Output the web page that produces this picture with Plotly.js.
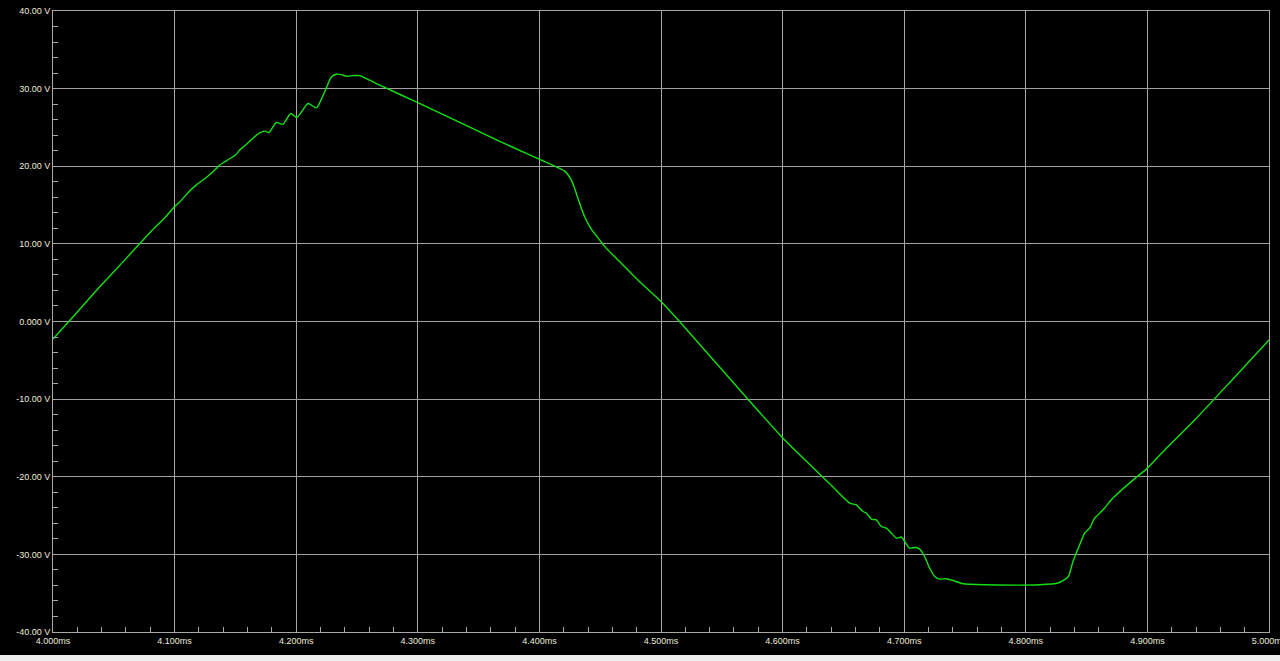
<!DOCTYPE html>
<html>
<head>
<meta charset="utf-8">
<script src="https://cdn.plot.ly/plotly-3.0.1.min.js"></script>
<style>
  html, body { margin: 0; padding: 0; background: #000; }
  #chart { width: 1280px; height: 661px; }
</style>
</head>
<body>
<div id="chart"></div>
<script>
// Time (ms) of each sample
var timeMs = [
  4.000, 4.013, 4.036, 4.060, 4.080, 4.0915, 4.0993, 4.1042, 4.1110, 4.1179,
  4.1261, 4.1343, 4.1365, 4.1426, 4.1508, 4.1535, 4.1575, 4.1632, 4.1700, 4.1741,
  4.1776, 4.1837, 4.1891, 4.1955, 4.2007, 4.2097, 4.2166, 4.2234, 4.2289, 4.2331,
  4.2372, 4.2413, 4.2467, 4.2522, 4.2577, 4.2632, 4.2687, 4.3000, 4.3674, 4.4126,
  4.4208, 4.4263, 4.4290, 4.4317, 4.4372, 4.4428, 4.4496, 4.4551, 4.4633, 4.4661,
  4.4825, 4.5003, 4.5154, 4.5715, 4.6003, 4.6262, 4.6400, 4.6552, 4.6607, 4.6661,
  4.6689, 4.6730, 4.6771, 4.6812, 4.6853, 4.6894, 4.6936, 4.6977, 4.7004, 4.7045,
  4.7100, 4.7133, 4.7168, 4.7209, 4.7250, 4.7291, 4.7347, 4.7401, 4.7484, 4.7676,
  4.8114, 4.8265, 4.8347, 4.8388, 4.8443, 4.8484, 4.8525, 4.8566, 4.8635, 4.8717,
  4.8910, 4.8992, 4.9156, 4.9389, 4.9700, 5.000
];
// Voltage (V) of each sample
var voltage = [
  -2.25, 0.00, 4.05, 8.10, 11.50, 13.30, 14.70, 15.40, 16.60, 17.60,
  18.56, 19.70, 20.10, 20.70, 21.55, 22.10, 22.60, 23.45, 24.30, 24.52,
  24.35, 25.64, 25.40, 26.80, 26.28, 28.08, 27.52, 29.58, 31.50, 31.85,
  31.80, 31.60, 31.68, 31.68, 31.30, 30.86, 30.44, 28.20, 23.20, 20.01,
  19.37, 18.22, 17.14, 15.86, 13.49, 11.87, 10.49, 9.42, 8.13, 7.70,
  5.12, 2.55, -0.03, -10.01, -15.03, -19.00, -21.10, -23.40, -23.62, -24.48,
  -24.69, -25.46, -25.55, -26.41, -26.62, -27.26, -27.90, -27.77, -28.34, -29.19,
  -29.11, -29.40, -30.27, -31.76, -32.84, -33.18, -33.14, -33.36, -33.79, -33.91,
  -33.91, -33.69, -32.92, -30.91, -28.76, -27.26, -26.62, -25.33, -24.26, -22.75,
  -20.05, -19.02, -16.32, -12.68, -7.46, -2.38
];

var xTickVals = [4.0, 4.1, 4.2, 4.3, 4.4, 4.5, 4.6, 4.7, 4.8, 4.9, 5.0];
var xTickText = ["4.000ms", "4.100ms", "4.200ms", "4.300ms", "4.400ms", "4.500ms",
                 "4.600ms", "4.700ms", "4.800ms", "4.900ms", "5.000ms"];
var yTickVals = [-40, -30, -20, -10, 0, 10, 20, 30, 40];
var yTickText = ["-40.00 V", "-30.00 V", "-20.00 V", "-10.00 V", "0.000 V",
                 "10.00 V", "20.00 V", "30.00 V", "40.00 V"];

var labelFont = { family: "Liberation Sans, Arial, sans-serif", size: 9, color: "#ecebd8" };

var trace = {
  x: timeMs,
  y: voltage,
  type: "scatter",
  mode: "lines",
  line: { color: "#12e012", width: 1.4, shape: "spline", smoothing: 0.6 },
  hoverinfo: "skip"
};

var layout = {
  width: 1280,
  height: 661,
  paper_bgcolor: "#000000",
  plot_bgcolor: "#000000",
  margin: { l: 53, r: 11, t: 11, b: 29, pad: 0 },
  showlegend: false,
  xaxis: {
    range: [4.0, 5.0],
    tickmode: "array",
    tickvals: xTickVals,
    ticktext: xTickText,
    tickfont: labelFont,
    ticks: "inside",
    ticklen: 5,
    tickcolor: "#a8a8a8",
    showgrid: true,
    gridcolor: "#a8a8a8",
    gridwidth: 1,
    zeroline: false,
    showline: true,
    linecolor: "#a8a8a8",
    linewidth: 1,
    mirror: true,
    ticklabeloverflow: "allow",
    minor: { tickmode: "linear", tick0: 4.0, dtick: 0.02, ticks: "inside", ticklen: 5, tickcolor: "#a8a8a8", showgrid: false },
    fixedrange: true
  },
  yaxis: {
    range: [-40, 40],
    tickmode: "array",
    tickvals: yTickVals,
    ticktext: yTickText,
    tickfont: labelFont,
    ticks: "inside",
    ticklen: 5,
    tickcolor: "#a8a8a8",
    showgrid: true,
    gridcolor: "#a0a0a0",
    gridwidth: 1,
    zeroline: false,
    showline: true,
    linecolor: "#a8a8a8",
    linewidth: 1,
    mirror: true,
    ticklabeloverflow: "allow",
    minor: { tickmode: "linear", tick0: -40, dtick: 2, ticks: "inside", ticklen: 5, tickcolor: "#a8a8a8", showgrid: false },
    fixedrange: true
  },
  shapes: [
    {
      type: "rect", xref: "paper", yref: "paper", layer: "above",
      x0: -0.05, x1: 1.05, y0: -0.05, y1: -0.0370,
      fillcolor: "#f0f0f0", line: { width: 0 }
    }
  ]
};

Plotly.newPlot("chart", [trace], layout, { displayModeBar: false, staticPlot: true });
</script>
</body>
</html>
